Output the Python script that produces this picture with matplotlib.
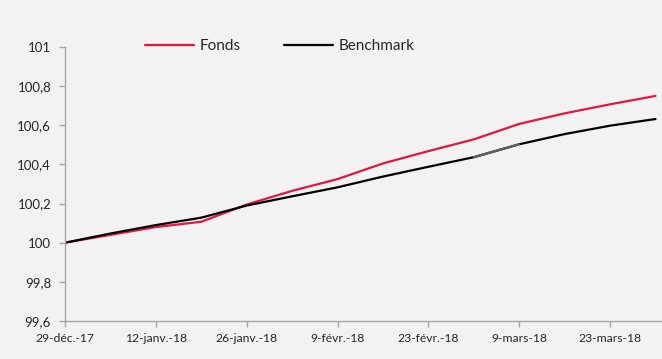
import matplotlib
matplotlib.use("Agg")
import matplotlib.pyplot as plt
import datetime as dt

# Weekly index values (base 100 on 29 Dec 2017)
dates = [dt.date(2017, 12, 29) + dt.timedelta(weeks=i) for i in range(14)]
fonds = [100.00, 100.04, 100.08, 100.107, 100.195, 100.265, 100.325,
         100.405, 100.468, 100.528, 100.607, 100.661, 100.707, 100.75]
benchmark = [100.00, 100.047, 100.09, 100.128, 100.19, 100.237, 100.283,
             100.338, 100.388, 100.437, 100.503, 100.555, 100.598, 100.632]

tick_dates = [dt.date(2017, 12, 29) + dt.timedelta(weeks=2 * i) for i in range(7)]
tick_labels = ["29-déc.-17", "12-janv.-18", "26-janv.-18", "9-févr.-18",
               "23-févr.-18", "9-mars-18", "23-mars-18"]
y_ticks = [99.6, 99.8, 100.0, 100.2, 100.4, 100.6, 100.8, 101.0]
y_labels = ["99,6", "99,8", "100", "100,2", "100,4", "100,6", "100,8", "101"]

bg = "#f2f2f2"
red = "#e3173e"
axis_col = "#a6a6a6"
plt.rcParams["font.family"] = ["Lato", "DejaVu Sans"]

fig = plt.figure(figsize=(6.62, 3.59), dpi=100, facecolor=bg)
ax = fig.add_axes([65 / 662, 1 - 321 / 359, (662 - 65) / 662, (321 - 47) / 359])
ax.set_facecolor(bg)

ax.plot(dates, fonds, color=red, lw=1.6, label="Fonds", solid_capstyle="round")
ax.plot(dates, benchmark, color="black", lw=1.6, label="Benchmark", solid_capstyle="round")
ax.plot(dates[9:11], benchmark[9:11], color="#606060", lw=1.6, solid_capstyle="round")

ax.set_xlim(dates[0], dates[-1] + dt.timedelta(days=1))
ax.set_ylim(99.6, 101.0)
ax.set_xticks(tick_dates)
ax.set_xticklabels(tick_labels, fontsize=8.7, color="#262626")
ax.set_yticks(y_ticks)
ax.set_yticklabels(y_labels, fontsize=9.5, color="#262626")

for s in ["top", "right"]:
    ax.spines[s].set_visible(False)
for s in ["left", "bottom"]:
    ax.spines[s].set_color(axis_col)
    ax.spines[s].set_linewidth(1.0)
ax.tick_params(axis="both", colors=axis_col, length=4, width=1.0, labelcolor="#262626")
ax.tick_params(axis="y", pad=6)
ax.tick_params(axis="x", pad=5)

fig.legend(loc="center", bbox_to_anchor=(280 / 662, 1 - 46 / 359), ncol=2,
           frameon=False, fontsize=11, handlelength=3.2, columnspacing=2.8,
           handletextpad=0.4, labelcolor="#262626")

fig.savefig("out.png", dpi=100, facecolor=bg)
